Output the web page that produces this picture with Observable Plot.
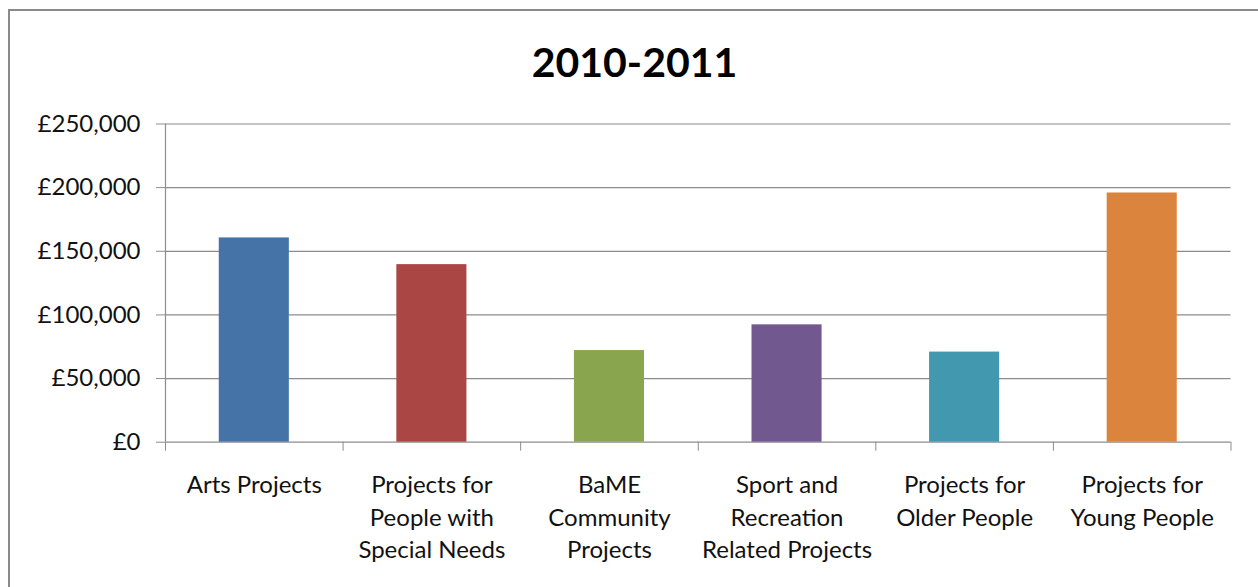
<!DOCTYPE html>
<html>
<head>
<meta charset="utf-8">
<script src="https://cdn.jsdelivr.net/npm/d3@7"></script>
<script src="https://cdn.jsdelivr.net/npm/@observablehq/plot@0.6"></script>
<style>
  html, body { margin: 0; padding: 0; background: #fff; }
  #wrap { position: relative; width: 1258px; height: 587px; overflow: hidden; font-family: Lato, "Open Sans", sans-serif; }
  #frame { position: absolute; left: 8px; top: 9px; width: 1320px; height: 700px; border: 2px solid #8a8a8a; box-sizing: border-box; }
  #title { position: relative; height: 100px; box-sizing: border-box; padding-top: 41px; line-height: 41px; font-size: 41px; font-weight: 700; color: #000; text-align: center; width: 1269px; }
  #chart { position: relative; }
  #chart svg { display: block; }
</style>
</head>
<body>
<div id="wrap">
  <div id="frame"></div>
  <div id="title">2010-2011</div>
  <div id="chart"></div>
</div>
<script>
const categories = [
  "Arts Projects",
  "Projects for\nPeople with\nSpecial Needs",
  "BaME\nCommunity\nProjects",
  "Sport and\nRecreation\nRelated Projects",
  "Projects for\nOlder People",
  "Projects for\nYoung People"
];
const values = [160500, 139500, 72000, 92200, 70800, 195800];
const colors = ["#4572A7", "#AA4643", "#89A54E", "#71588F", "#4198AF", "#DB843D"];
const yTicks = [0, 50000, 100000, 150000, 200000, 250000];

const data = categories.map((c, i) => ({category: c, i, value: values[i], color: colors[i]}));
const boundaries = d3.range(categories.length + 1);
const gridColor = "#8c8c8c";

const chart = Plot.plot({
  width: 1258,
  height: 487,
  marginTop: 23.5,
  marginBottom: 145.3,
  marginLeft: 165,
  marginRight: 27.5,
  style: {fontFamily: "Lato, 'Open Sans', sans-serif", fontSize: "24px", color: "#000", background: "transparent"},
  x: {domain: [0, categories.length], label: null},
  y: {domain: [0, 250000], label: null},
  marks: [
    Plot.gridY(yTicks, {stroke: gridColor, strokeOpacity: 1, strokeWidth: 1.2}),
    Plot.rectY(data, {
      x1: "i",
      x2: d => d.i + 1,
      y1: 0,
      y2: "value",
      fill: d => d.color,
      insetLeft: 53.75,
      insetRight: 53.75
    }),
    Plot.ruleX([0], {stroke: gridColor, strokeWidth: 1.2}),
    Plot.axisY({
      ticks: yTicks,
      tickSize: 9,
      tickPadding: 16,
      tickFormat: d => "£" + d3.format(",")(d),
      stroke: gridColor,
      fill: "#111",
      fontSize: 24,
      label: null
    }),
    Plot.axisX({
      ticks: boundaries,
      tickSize: 9,
      tickFormat: () => "",
      stroke: gridColor,
      label: null
    }),
    Plot.text(data, {
      x: d => d.i + 0.5,
      y: 0,
      text: "category",
      lineAnchor: "top",
      lineHeight: 1.354,
      dy: 28,
      fontSize: 24,
      fill: "#111",
      textAnchor: "middle"
    })
  ]
});
document.getElementById("chart").appendChild(chart);
</script>
</body>
</html>
